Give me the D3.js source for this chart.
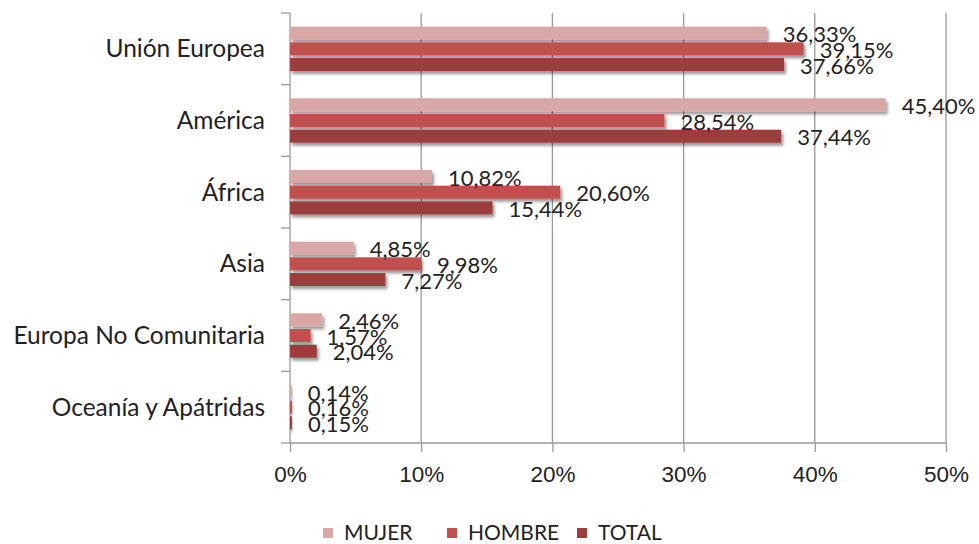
<!DOCTYPE html>
<html>
<head>
<meta charset="utf-8">
<script src="https://cdn.jsdelivr.net/npm/d3@7"></script>
<style>
  body { margin: 0; background: #fff; }
  svg { font-family: Lato, "Open Sans", sans-serif; }
</style>
</head>
<body>
<svg id="chart"></svg>
<script>
// Chart data
const categories = ['Unión Europea', 'América', 'África', 'Asia', 'Europa No Comunitaria', 'Oceanía y Apátridas'];
const seriesNames = ['MUJER', 'HOMBRE', 'TOTAL'];
const mujer = [36.33, 45.40, 10.82, 4.85, 2.46, 0.14];
const hombre = [39.15, 28.54, 20.60, 9.98, 1.57, 0.16];
const total = [37.66, 37.44, 15.44, 7.27, 2.04, 0.15];
const xTicks = [0, 10, 20, 30, 40, 50];

const colors = { 'MUJER': '#D9A7A6', 'HOMBRE': '#C0504D', 'TOTAL': '#9C3E3C' };

const seriesValues = { 'MUJER': mujer, 'HOMBRE': hombre, 'TOTAL': total };
const rows = categories.map((c, i) => ({
    cat: c,
    values: seriesNames.map(s => ({ key: s, value: seriesValues[s][i] }))
}));

const W = 979, H = 544;
const plot = { left: 290, right: 946, top: 13, bottom: 443 };
const axisColor = '#9a9a9a';
const textColor = '#222';

const svg = d3.select('#chart').attr('width', W).attr('height', H);

// drop shadow under the bars
const defs = svg.append('defs');
const f = defs.append('filter').attr('id', 'shadow')
    .attr('x', '-20%').attr('y', '-40%').attr('width', '140%').attr('height', '200%');
f.append('feDropShadow')
    .attr('dx', 2).attr('dy', 3).attr('stdDeviation', 1.8)
    .attr('flood-color', '#000').attr('flood-opacity', 0.4);

// scales
const xScale = d3.scaleLinear().domain([0, 50]).range([plot.left, plot.right]);
const yScale = d3.scaleBand().domain(categories).range([plot.top, plot.bottom])
    .paddingInner(0.38).paddingOuter(0.19);
const ySub = d3.scaleBand().domain(seriesNames).range([0, yScale.bandwidth()])
    .paddingInner(0.17);

const rowStep = (plot.bottom - plot.top) / categories.length;

// vertical gridlines
svg.append('g').selectAll('line')
    .data(xTicks.slice(1))
    .enter().append('line')
    .attr('x1', d => xScale(d)).attr('x2', d => xScale(d))
    .attr('y1', plot.top).attr('y2', plot.bottom)
    .attr('stroke', axisColor).attr('stroke-width', 1.3);

// x axis
const xAxis = d3.axisBottom(xScale)
    .tickValues(xTicks)
    .tickSize(9)
    .tickPadding(14)
    .tickFormat(d => d + '%');
const gx = svg.append('g')
    .attr('transform', `translate(0,${plot.bottom})`)
    .call(xAxis);
gx.select('.domain').attr('stroke', axisColor).attr('stroke-width', 1.3)
    .attr('d', `M${plot.left},0H${plot.right}`);
gx.selectAll('.tick line').attr('stroke', axisColor).attr('stroke-width', 1.3);
gx.selectAll('.tick text').attr('fill', textColor).style('font-size', '22.5px');

// y axis (category labels + ticks at row boundaries)
const gy = svg.append('g');
gy.append('line')
    .attr('x1', plot.left).attr('x2', plot.left)
    .attr('y1', plot.top).attr('y2', plot.bottom)
    .attr('stroke', axisColor).attr('stroke-width', 1.3);
gy.selectAll('line.tick')
    .data(d3.range(categories.length + 1))
    .enter().append('line')
    .attr('class', 'tick')
    .attr('x1', plot.left - 9).attr('x2', plot.left)
    .attr('y1', d => plot.top + d * rowStep).attr('y2', d => plot.top + d * rowStep)
    .attr('stroke', axisColor).attr('stroke-width', 1.3);
gy.selectAll('text')
    .data(categories)
    .enter().append('text')
    .attr('x', plot.left - 25)
    .attr('y', d => yScale(d) + yScale.bandwidth() / 2)
    .attr('dy', '0.35em')
    .attr('text-anchor', 'end')
    .attr('fill', textColor)
    .style('font-size', '24.5px')
    .text(d => d);

// bars
const groups = svg.append('g').selectAll('g')
    .data(rows)
    .enter().append('g')
    .attr('transform', d => `translate(0,${yScale(d.cat)})`);

groups.selectAll('rect')
    .data(d => d.values)
    .enter().append('rect')
    .attr('x', xScale(0))
    .attr('y', d => ySub(d.key))
    .attr('width', d => xScale(d.value) - xScale(0))
    .attr('height', ySub.bandwidth())
    .attr('fill', d => colors[d.key])
    .attr('filter', 'url(#shadow)');

// data labels
groups.selectAll('text')
    .data(d => d.values)
    .enter().append('text')
    .attr('x', d => xScale(d.value) + 16)
    .attr('y', d => ySub(d.key) + ySub.bandwidth() / 2 + 1.5)
    .attr('dy', '0.35em')
    .attr('fill', textColor)
    .style('font-size', '22px')
    .text(d => d.value.toFixed(2).replace('.', ',') + '%');

// legend
const legendX = [323, 447, 577];
const legend = svg.append('g').selectAll('g')
    .data(seriesNames)
    .enter().append('g')
    .attr('transform', (d, i) => `translate(${legendX[i]},533)`);
legend.append('rect')
    .attr('x', 0).attr('y', -5)
    .attr('width', 10).attr('height', 10)
    .attr('fill', d => colors[d]);
legend.append('text')
    .attr('x', 21).attr('y', 0).attr('dy', '0.35em')
    .attr('fill', textColor)
    .style('font-size', '21px')
    .text(d => d);
</script>
</body>
</html>
